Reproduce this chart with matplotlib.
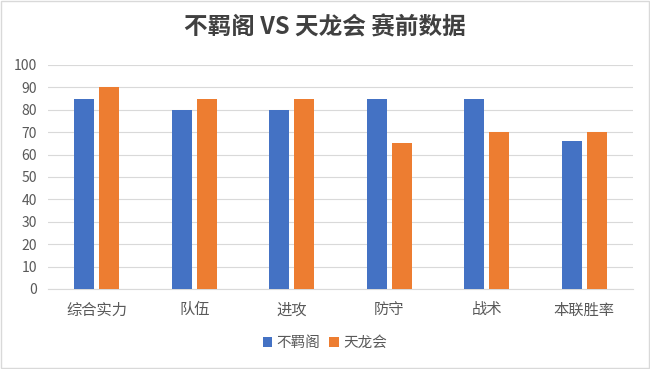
import numpy as np
import matplotlib.pyplot as plt
from matplotlib.patches import Rectangle

plt.rcParams['font.family'] = ['Noto Sans CJK SC', 'DejaVu Sans']

categories = ['综合实力', '队伍', '进攻', '防守', '战术', '本联胜率']
bujige = [85, 80, 80, 85, 85, 66]
tianlonghui = [90, 85, 85, 65, 70, 70]
series_names = ['不羁阁', '天龙会']
title = '不羁阁 VS 天龙会 赛前数据'

fig = plt.figure(figsize=(6.5, 3.69), dpi=100)
ax = fig.add_axes([0.074, 0.217, 0.9, 0.607])

x = np.arange(len(categories))
w = 0.205
ax.bar(x - 0.128, bujige, w, color='#4472C4', label=series_names[0], zorder=3)
ax.bar(x + 0.128, tianlonghui, w, color='#ED7D31', label=series_names[1], zorder=3)

ax.set_xlim(-0.5, len(categories) - 0.5)
ax.set_ylim(0, 100)
ax.set_yticks(range(0, 101, 10))
ax.set_xticks(x)
ax.set_xticklabels(categories, fontsize=11)
ax.tick_params(axis='both', length=0, colors='#595959')
ax.tick_params(axis='y', labelsize=10, pad=8)
ax.tick_params(axis='x', pad=9)
ax.grid(axis='y', color='#D9D9D9', linewidth=0.8, zorder=0)
for s in ['top', 'right', 'left']:
    ax.spines[s].set_visible(False)
ax.spines['bottom'].set_color('#D9D9D9')

fig.text(0.5, 0.925, title, ha='center', va='center', fontsize=17,
         fontweight='bold', color='#404040')

fig.legend(loc='center', bbox_to_anchor=(0.5, 0.07), ncol=2, frameon=False,
           fontsize=10.5, handlelength=0.65, handleheight=0.65, columnspacing=0.6,
           handletextpad=0.3, labelcolor='#595959')

fig.patches.append(Rectangle((0.002, 0.003), 0.996, 0.994, transform=fig.transFigure,
                             fill=False, edgecolor='#D9D9D9', linewidth=1))

fig.savefig('out.png', dpi=100)
